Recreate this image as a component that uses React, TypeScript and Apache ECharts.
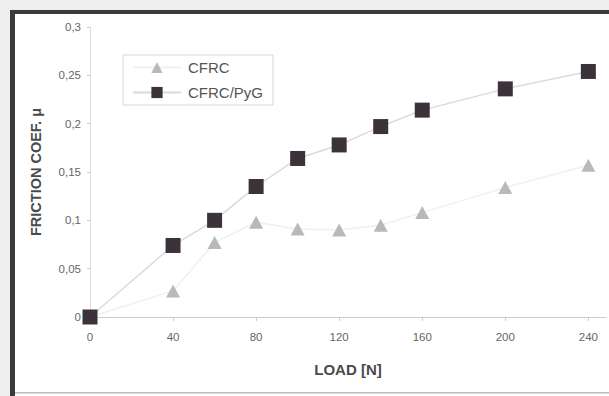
import React, { useEffect, useRef } from "react";
import * as echarts from "echarts";

const loads = [0, 40, 60, 80, 100, 120, 140, 160, 200, 240];
const cfrc = [0, 0.027, 0.077, 0.098, 0.091, 0.09, 0.095, 0.108, 0.134, 0.157];
const cfrcPyg = [0, 0.074, 0.1, 0.135, 0.164, 0.178, 0.197, 0.214, 0.236, 0.254];
const xTicks = [0, 40, 80, 120, 160, 200, 240];
const yTicks = [0, 0.05, 0.1, 0.15, 0.2, 0.25, 0.3];

const FONT = "Liberation Sans, Arial, sans-serif";

export default function App() {
  const ref = useRef<HTMLDivElement>(null);
  useEffect(() => {
    if (!ref.current) return;
    const chart = echarts.init(ref.current, null, { renderer: "svg" });
    chart.setOption({
      animation: false,
      backgroundColor: "#ffffff",
      textStyle: { fontFamily: FONT },
      graphic: [
        { type: "rect", shape: { x: 0, y: 0, width: 609, height: 10 }, style: { fill: "#eeeeee" }, silent: true },
        { type: "rect", shape: { x: 0, y: 0, width: 10, height: 396 }, style: { fill: "#eeeeee" }, silent: true },
        { type: "rect", shape: { x: 10, y: 10, width: 599, height: 4 }, style: { fill: "#3a3a3a" }, silent: true },
        { type: "rect", shape: { x: 10, y: 10, width: 5, height: 386 }, style: { fill: "#3a3a3a" }, silent: true },
        { type: "rect", shape: { x: 15, y: 392, width: 594, height: 1.5 }, style: { fill: "#bbbbbb" }, silent: true },
      ],
      grid: { left: 90, top: 27, width: 516, height: 290, containLabel: false },
      legend: {
        left: 123,
        top: 55,
        orient: "vertical",
        itemWidth: 48,
        itemHeight: 14,
        itemGap: 10,
        padding: [5, 10, 5, 9],
        borderColor: "#d6d6d6",
        borderWidth: 1,
        textStyle: { fontSize: 15, color: "#555555", fontFamily: FONT, padding: [0, 0, 0, 2] },
        data: ["CFRC", "CFRC/PyG"],
      },
      xAxis: {
        type: "value",
        min: 0,
        max: 248.5,
        interval: 40,
        name: "LOAD [N]",
        nameLocation: "middle",
        nameGap: 45,
        nameTextStyle: { fontSize: 15, fontWeight: "bold", color: "#4a4a4a", fontFamily: FONT },
        splitLine: { show: false },
        axisLine: { lineStyle: { color: "#cccccc", width: 1 } },
        axisTick: { show: true, length: 4, lineStyle: { color: "#cccccc" }, customValues: xTicks },
        axisLabel: { fontSize: 11.5, color: "#666666", margin: 14, customValues: xTicks },
      },
      yAxis: {
        type: "value",
        min: 0,
        max: 0.3,
        interval: 0.05,
        name: "FRICTION COEF. μ",
        nameLocation: "middle",
        nameGap: 47,
        nameRotate: 90,
        nameTextStyle: { fontSize: 14.5, fontWeight: "bold", color: "#4a4a4a", fontFamily: FONT },
        splitLine: { show: false },
        axisLine: { show: true, lineStyle: { color: "#dddddd", width: 1 } },
        axisTick: { show: true, length: 3, lineStyle: { color: "#cccccc" }, customValues: yTicks },
        axisLabel: {
          fontSize: 11.5,
          color: "#666666",
          margin: 9,
          customValues: yTicks,
          formatter: (v: number) => String(Math.round(v * 100) / 100).replace(".", ","),
        },
      },
      series: [
        {
          name: "CFRC",
          type: "line",
          data: loads.map((x, i) => [x, cfrc[i]]),
          symbol: "triangle",
          symbolSize: [14, 13],
          lineStyle: { color: "#f0f0f0", width: 1.5 },
          itemStyle: { color: "#b9b9b9" },
          z: 2,
        },
        {
          name: "CFRC/PyG",
          type: "line",
          data: loads.map((x, i) => [x, cfrcPyg[i]]),
          symbol: "rect",
          symbolSize: 15,
          lineStyle: { color: "#dadada", width: 1.5 },
          itemStyle: { color: "#3b3339" },
          z: 3,
        },
      ],
    });
    return () => chart.dispose();
  }, []);
  return <div ref={ref} style={{ position: "fixed", left: 0, top: 0, width: 609, height: 396 }} />;
}
